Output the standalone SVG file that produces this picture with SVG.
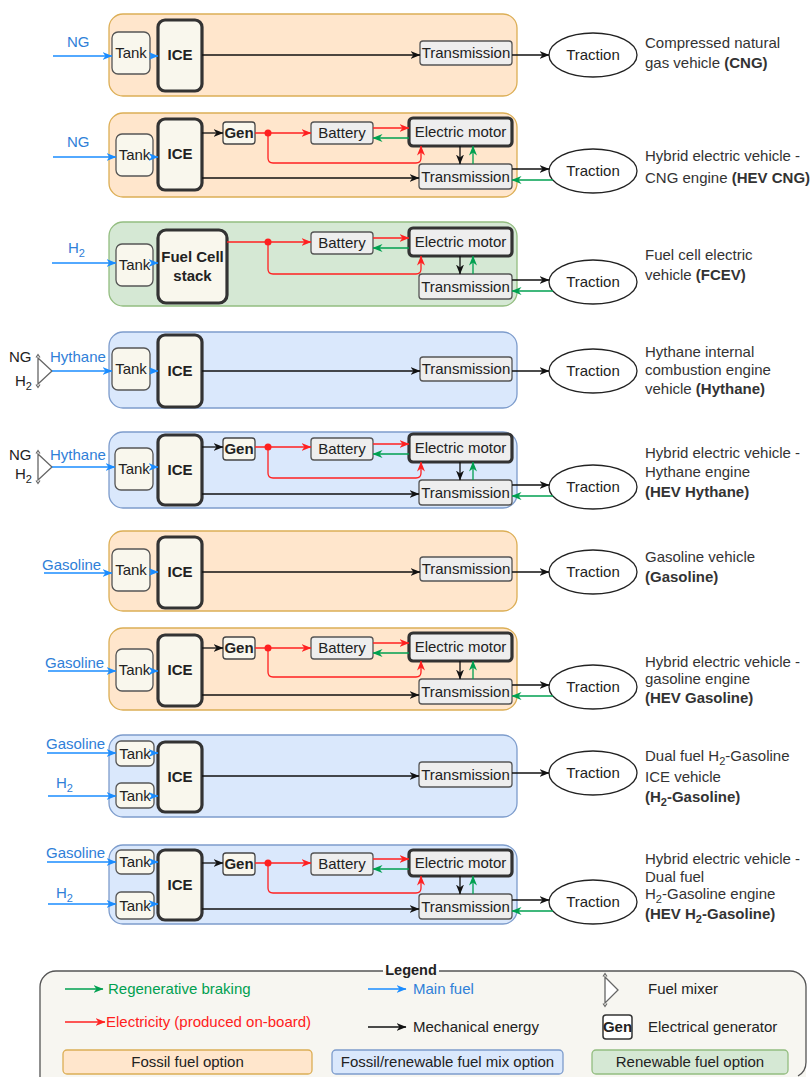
<svg xmlns="http://www.w3.org/2000/svg" width="811" height="1077" viewBox="0 0 811 1077">
  <style>
    .pf {fill:#ffe6cc;stroke:#dcae55;stroke-width:1.3}
    .pb {fill:#dae8fc;stroke:#7d9ccc;stroke-width:1.3}
    .pg {fill:#d5e8d4;stroke:#93bd80;stroke-width:1.3}
    .tank {fill:#f9f7ed;stroke:#555;stroke-width:1.3}
    .ice {fill:#f9f7ed;stroke:#333;stroke-width:3.2}
    .gen {fill:#f9f7ed;stroke:#444;stroke-width:1.3}
    .box {fill:#eeeeee;stroke:#555;stroke-width:1.3}
    .motor {fill:#eeeeee;stroke:#333;stroke-width:3.2}
    .trac {fill:#fff;stroke:#222;stroke-width:1.3}
    .mix {fill:#fff;stroke:#666;stroke-width:1.3}
    text {font-family:"Liberation Sans",Arial,sans-serif;font-size:15px;fill:#222}
    .c {text-anchor:middle}
    .bd {font-weight:bold}
    .fuel {fill:#2f80d8}
    .desc {fill:#333}
    .sub {font-size:11px}
    .k {fill:none;stroke:#111;stroke-width:1.3}
    .r {fill:none;stroke:#ff2020;stroke-width:1.3}
    .g {fill:none;stroke:#00a050;stroke-width:1.3}
    .b {fill:none;stroke:#1a8cff;stroke-width:1.5}
    .dot {fill:#ff2020}
  </style>
  <defs>
    <marker id="ah-k" viewBox="0 0 10 8" refX="9.5" refY="4" markerWidth="10" markerHeight="8" markerUnits="userSpaceOnUse" orient="auto"><path d="M0,0 L10,4 L0,8 L3,4 z" fill="#111"/></marker>
    <marker id="ah-r" viewBox="0 0 10 8" refX="9.5" refY="4" markerWidth="10" markerHeight="8" markerUnits="userSpaceOnUse" orient="auto"><path d="M0,0 L10,4 L0,8 L3,4 z" fill="#ff2020"/></marker>
    <marker id="ah-g" viewBox="0 0 10 8" refX="9.5" refY="4" markerWidth="10" markerHeight="8" markerUnits="userSpaceOnUse" orient="auto"><path d="M0,0 L10,4 L0,8 L3,4 z" fill="#00a050"/></marker>
    <marker id="ah-b" viewBox="0 0 10 8" refX="9.5" refY="4" markerWidth="10" markerHeight="8" markerUnits="userSpaceOnUse" orient="auto"><path d="M0,0 L10,4 L0,8 L3,4 z" fill="#1a8cff"/></marker>
  </defs>

  <rect width="811" height="1077" fill="#fff"/>

  <!-- ===== Panel backgrounds and nodes ===== -->

  <!-- CNG -->
  <g id="cng" transform="translate(0,14)">
    <rect class="pf" x="109" y="0" width="408" height="82" rx="14"/>
    <g id="cng-tank"><rect class="tank" x="112" y="18" width="38" height="42" rx="6"/><text class="c" x="131" y="44">Tank</text></g>
    <g id="cng-ice"><rect class="ice" x="158" y="6" width="44" height="71" rx="7"/><text class="c bd" x="180" y="46">ICE</text></g>
    <g id="cng-trans"><rect class="box" x="420" y="27" width="92" height="24" rx="3"/><text class="c" x="466" y="44">Transmission</text></g>
    <g id="cng-traction"><ellipse class="trac" cx="593" cy="41" rx="44" ry="22"/><text class="c" x="593" y="46">Traction</text></g>
    <text class="fuel" x="67" y="33">NG</text>
    <g id="cng-label"><text class="desc" x="645" y="34">Compressed natural</text><text class="desc" x="645" y="54">gas vehicle <tspan class="bd">(CNG)</tspan></text></g>
  </g>

  <!-- HEV CNG -->
  <g id="hev-cng" transform="translate(0,113)">
    <rect class="pf" x="109" y="0" width="408" height="84" rx="14"/>
    <g id="hev-cng-tank"><rect class="tank" x="116" y="21" width="37" height="42" rx="6"/><text class="c" x="134.5" y="47">Tank</text></g>
    <g id="hev-cng-ice"><rect class="ice" x="158" y="6" width="44" height="71" rx="7"/><text class="c bd" x="180" y="46">ICE</text></g>
    <g id="hev-cng-gen"><rect class="gen" x="223" y="9" width="32" height="22" rx="3"/><text class="c bd" x="239" y="25">Gen</text></g>
    <g id="hev-cng-battery"><rect class="box" x="311" y="9" width="62" height="22" rx="3"/><text class="c" x="342" y="25">Battery</text></g>
    <g id="hev-cng-motor"><rect class="motor" x="409" y="5" width="103" height="28" rx="4"/><text class="c" x="460.5" y="24">Electric motor</text></g>
    <g id="hev-cng-trans"><rect class="box" x="419" y="51" width="93" height="25" rx="3"/><text class="c" x="465.5" y="68.5">Transmission</text></g>
    <g id="hev-cng-traction"><ellipse class="trac" cx="593" cy="58" rx="44" ry="22"/><text class="c" x="593" y="63">Traction</text></g>
    <text class="fuel" x="67" y="34">NG</text>
    <g id="hev-cng-label"><text class="desc" x="645" y="48">Hybrid electric vehicle -</text><text class="desc" x="645" y="70">CNG engine <tspan class="bd">(HEV CNG)</tspan></text></g>
  </g>

  <!-- FCEV -->
  <g id="fcev" transform="translate(0,223)">
    <rect class="pg" x="109" y="-1" width="408" height="84" rx="14"/>
    <g id="fcev-tank"><rect class="tank" x="116" y="21" width="37" height="42" rx="6"/><text class="c" x="134.5" y="47">Tank</text></g>
    <g id="fcev-stack"><rect class="ice" x="158" y="7" width="69" height="73" rx="8"/><text class="c bd" x="192.5" y="39">Fuel Cell</text><text class="c bd" x="192.5" y="58">stack</text></g>
    <g id="fcev-battery"><rect class="box" x="311" y="9" width="62" height="22" rx="3"/><text class="c" x="342" y="25">Battery</text></g>
    <g id="fcev-motor"><rect class="motor" x="409" y="5" width="103" height="28" rx="4"/><text class="c" x="460.5" y="24">Electric motor</text></g>
    <g id="fcev-trans"><rect class="box" x="419" y="51" width="93" height="25" rx="3"/><text class="c" x="465.5" y="68.5">Transmission</text></g>
    <g id="fcev-traction"><ellipse class="trac" cx="593" cy="59" rx="44" ry="22"/><text class="c" x="593" y="64">Traction</text></g>
    <text class="fuel" x="68" y="30">H<tspan class="sub" dy="4">2</tspan></text>
    <g id="fcev-label"><text class="desc" x="645" y="37">Fuel cell electric</text><text class="desc" x="645" y="57">vehicle <tspan class="bd">(FCEV)</tspan></text></g>
  </g>

  <!-- Hythane ICE -->
  <g id="hythane" transform="translate(0,330)">
    <rect class="pb" x="109" y="2" width="408" height="76" rx="14"/>
    <g id="hythane-mixer"><polygon class="mix" points="38,28 52,41 38,54"/><path d="M36,27.5 L38,24.5 L40,27.5 M36,54.5 L38,57.5 L40,54.5" fill="none" stroke="#666" stroke-width="1.2"/></g>
    <g id="hythane-tank"><rect class="tank" x="112" y="18" width="38" height="42" rx="6"/><text class="c" x="131" y="44">Tank</text></g>
    <g id="hythane-ice"><rect class="ice" x="158" y="5" width="44" height="72" rx="7"/><text class="c bd" x="180" y="46">ICE</text></g>
    <g id="hythane-trans"><rect class="box" x="420" y="27" width="92" height="24" rx="3"/><text class="c" x="466" y="44">Transmission</text></g>
    <g id="hythane-traction"><ellipse class="trac" cx="593" cy="41" rx="44" ry="22"/><text class="c" x="593" y="46">Traction</text></g>
    <text x="9" y="32">NG</text>
    <text x="15" y="56">H<tspan class="sub" dy="4">2</tspan></text>
    <text class="fuel" x="50" y="32">Hythane</text>
    <g id="hythane-label"><text class="desc" x="645" y="27">Hythane internal</text><text class="desc" x="645" y="45">combustion engine</text><text class="desc" x="645" y="64">vehicle <tspan class="bd">(Hythane)</tspan></text></g>
  </g>

  <!-- HEV Hythane -->
  <g id="hev-hythane" transform="translate(0,429)">
    <rect class="pb" x="109" y="3" width="408" height="76" rx="14"/>
    <g id="hev-hythane-mixer"><polygon class="mix" points="38,25 52,38 38,51"/><path d="M36,24.5 L38,21.5 L40,24.5 M36,51.5 L38,54.5 L40,51.5" fill="none" stroke="#666" stroke-width="1.2"/></g>
    <g id="hev-hythane-tank"><rect class="tank" x="115" y="19" width="38" height="42" rx="6"/><text class="c" x="134" y="45">Tank</text></g>
    <g id="hev-hythane-ice"><rect class="ice" x="158" y="6" width="44" height="70" rx="7"/><text class="c bd" x="180" y="46">ICE</text></g>
    <g id="hev-hythane-gen"><rect class="gen" x="223" y="9" width="32" height="22" rx="3"/><text class="c bd" x="239" y="25">Gen</text></g>
    <g id="hev-hythane-battery"><rect class="box" x="311" y="9" width="62" height="22" rx="3"/><text class="c" x="342" y="25">Battery</text></g>
    <g id="hev-hythane-motor"><rect class="motor" x="409" y="5" width="103" height="28" rx="4"/><text class="c" x="460.5" y="24">Electric motor</text></g>
    <g id="hev-hythane-trans"><rect class="box" x="419" y="51" width="93" height="25" rx="3"/><text class="c" x="465.5" y="68.5">Transmission</text></g>
    <g id="hev-hythane-traction"><ellipse class="trac" cx="593" cy="58" rx="44" ry="22"/><text class="c" x="593" y="63">Traction</text></g>
    <text x="9" y="31">NG</text>
    <text x="15" y="50">H<tspan class="sub" dy="4">2</tspan></text>
    <text class="fuel" x="50" y="31">Hythane</text>
    <g id="hev-hythane-label"><text class="desc" x="645" y="29">Hybrid electric vehicle -</text><text class="desc" x="645" y="48">Hythane engine</text><text class="desc bd" x="645" y="68">(HEV Hythane)</text></g>
  </g>

  <!-- Gasoline ICE -->
  <g id="gasoline" transform="translate(0,531)">
    <rect class="pf" x="109" y="0" width="408" height="80" rx="14"/>
    <g id="gasoline-tank"><rect class="tank" x="112" y="18" width="38" height="42" rx="6"/><text class="c" x="131" y="44">Tank</text></g>
    <g id="gasoline-ice"><rect class="ice" x="158" y="6" width="44" height="71" rx="7"/><text class="c bd" x="180" y="46">ICE</text></g>
    <g id="gasoline-trans"><rect class="box" x="420" y="26" width="92" height="24" rx="3"/><text class="c" x="466" y="43">Transmission</text></g>
    <g id="gasoline-traction"><ellipse class="trac" cx="593" cy="41" rx="44" ry="22"/><text class="c" x="593" y="46">Traction</text></g>
    <text class="fuel" x="42" y="39">Gasoline</text>
    <g id="gasoline-label"><text class="desc" x="645" y="31">Gasoline vehicle</text><text class="desc bd" x="645" y="51">(Gasoline)</text></g>
  </g>

  <!-- HEV Gasoline -->
  <g id="hev-gasoline" transform="translate(0,628)">
    <rect class="pf" x="109" y="0" width="408" height="82" rx="14"/>
    <g id="hev-gasoline-tank"><rect class="tank" x="116" y="21" width="37" height="42" rx="6"/><text class="c" x="134.5" y="47">Tank</text></g>
    <g id="hev-gasoline-ice"><rect class="ice" x="158" y="7" width="44" height="71" rx="7"/><text class="c bd" x="180" y="47">ICE</text></g>
    <g id="hev-gasoline-gen"><rect class="gen" x="223" y="9" width="32" height="22" rx="3"/><text class="c bd" x="239" y="25">Gen</text></g>
    <g id="hev-gasoline-battery"><rect class="box" x="311" y="9" width="62" height="22" rx="3"/><text class="c" x="342" y="25">Battery</text></g>
    <g id="hev-gasoline-motor"><rect class="motor" x="409" y="5" width="103" height="28" rx="4"/><text class="c" x="460.5" y="24">Electric motor</text></g>
    <g id="hev-gasoline-trans"><rect class="box" x="419" y="51" width="93" height="25" rx="3"/><text class="c" x="465.5" y="68.5">Transmission</text></g>
    <g id="hev-gasoline-traction"><ellipse class="trac" cx="593" cy="59" rx="44" ry="22"/><text class="c" x="593" y="64">Traction</text></g>
    <text class="fuel" x="45" y="40">Gasoline</text>
    <g id="hev-gasoline-label"><text class="desc" x="645" y="39">Hybrid electric vehicle -</text><text class="desc" x="645" y="56">gasoline engine</text><text class="desc bd" x="645" y="75">(HEV Gasoline)</text></g>
  </g>

  <!-- Dual fuel H2-Gasoline ICE -->
  <g id="h2-gasoline" transform="translate(0,735)">
    <rect class="pb" x="109" y="0" width="408" height="82" rx="14"/>
    <g id="h2-gasoline-tank1"><rect class="tank" x="116" y="6" width="38" height="25" rx="5"/><text class="c" x="135" y="24">Tank</text></g>
    <g id="h2-gasoline-tank2"><rect class="tank" x="116" y="48" width="38" height="25" rx="5"/><text class="c" x="135" y="66">Tank</text></g>
    <g id="h2-gasoline-ice"><rect class="ice" x="158" y="7" width="44" height="70" rx="7"/><text class="c bd" x="180" y="47">ICE</text></g>
    <g id="h2-gasoline-trans"><rect class="box" x="419" y="27" width="93" height="25" rx="3"/><text class="c" x="465.5" y="44.5">Transmission</text></g>
    <g id="h2-gasoline-traction"><ellipse class="trac" cx="593" cy="38" rx="44" ry="22"/><text class="c" x="593" y="43">Traction</text></g>
    <text class="fuel" x="46" y="14">Gasoline</text>
    <text class="fuel" x="56" y="53">H<tspan class="sub" dy="4">2</tspan></text>
    <g id="h2-gasoline-label"><text class="desc" x="645" y="26">Dual fuel H<tspan class="sub" dy="4">2</tspan><tspan dy="-4">-Gasoline</tspan></text><text class="desc" x="645" y="47">ICE vehicle</text><text class="desc bd" x="645" y="67">(H<tspan class="sub" dy="4">2</tspan><tspan dy="-4">-Gasoline)</tspan></text></g>
  </g>

  <!-- HEV dual fuel H2-Gasoline -->
  <g id="hev-h2-gasoline" transform="translate(0,844)">
    <rect class="pb" x="109" y="1" width="408" height="79" rx="14"/>
    <g id="hev-h2-gasoline-tank1"><rect class="tank" x="116" y="6" width="38" height="24" rx="5"/><text class="c" x="135" y="23">Tank</text></g>
    <g id="hev-h2-gasoline-tank2"><rect class="tank" x="116" y="48" width="38" height="27" rx="5"/><text class="c" x="135" y="67">Tank</text></g>
    <g id="hev-h2-gasoline-ice"><rect class="ice" x="158" y="6" width="44" height="70" rx="7"/><text class="c bd" x="180" y="46">ICE</text></g>
    <g id="hev-h2-gasoline-gen"><rect class="gen" x="223" y="9" width="32" height="22" rx="3"/><text class="c bd" x="239" y="25">Gen</text></g>
    <g id="hev-h2-gasoline-battery"><rect class="box" x="311" y="9" width="62" height="22" rx="3"/><text class="c" x="342" y="25">Battery</text></g>
    <g id="hev-h2-gasoline-motor"><rect class="motor" x="409" y="6" width="103" height="26" rx="4"/><text class="c" x="460.5" y="24">Electric motor</text></g>
    <g id="hev-h2-gasoline-trans"><rect class="box" x="419" y="50" width="93" height="25" rx="3"/><text class="c" x="465.5" y="67.5">Transmission</text></g>
    <g id="hev-h2-gasoline-traction"><ellipse class="trac" cx="593" cy="58" rx="44" ry="22"/><text class="c" x="593" y="63">Traction</text></g>
    <text class="fuel" x="46" y="14">Gasoline</text>
    <text class="fuel" x="56" y="54">H<tspan class="sub" dy="4">2</tspan></text>
    <g id="hev-h2-gasoline-label"><text class="desc" x="645" y="20">Hybrid electric vehicle -</text><text class="desc" x="645" y="38">Dual fuel</text><text class="desc" x="645" y="55">H<tspan class="sub" dy="4">2</tspan><tspan dy="-4">-Gasoline engine</tspan></text><text class="desc bd" x="645" y="75">(HEV H<tspan class="sub" dy="4">2</tspan><tspan dy="-4">-Gasoline)</tspan></text></g>
  </g>

  <!-- ===== Connectors ===== -->
  <g id="connectors">
    <g transform="translate(0,14)">
      <path class="b" d="M53,42 H112" marker-end="url(#ah-b)"/>
      <path class="b" d="M150,42 H158" marker-end="url(#ah-b)"/>
      <path class="k" d="M202,41 H420" marker-end="url(#ah-k)"/>
      <path class="k" d="M512,41 H549" marker-end="url(#ah-k)"/>
    </g>
    <g transform="translate(0,113)">
      <path class="b" d="M53,44 H116" marker-end="url(#ah-b)"/>
      <path class="b" d="M153,44 H158" marker-end="url(#ah-b)"/>
      <path class="k" d="M202,20 H223" marker-end="url(#ah-k)"/>
      <path class="r" d="M255,20 H311" marker-end="url(#ah-r)"/>
      <path class="r" d="M268,20 V45 Q268,50 273,50 H416 Q421,50 421,45 V33" marker-end="url(#ah-r)"/>
      <circle class="dot" cx="268" cy="20" r="3.5"/>
      <path class="r" d="M373,15 H409" marker-end="url(#ah-r)"/>
      <path class="g" d="M409,25 H373" marker-end="url(#ah-g)"/>
      <path class="k" d="M460,33 V51" marker-end="url(#ah-k)"/>
      <path class="g" d="M473,51 V33" marker-end="url(#ah-g)"/>
      <path class="k" d="M202,65 H419" marker-end="url(#ah-k)"/>
      <path class="k" d="M512,56 H549" marker-end="url(#ah-k)"/>
      <path class="g" d="M553,67 H512" marker-end="url(#ah-g)"/>
    </g>
    <g transform="translate(0,223)">
      <path class="b" d="M52,40 H116" marker-end="url(#ah-b)"/>
      <path class="b" d="M153,40 H158" marker-end="url(#ah-b)"/>
      <path class="r" d="M227,19 H311" marker-end="url(#ah-r)"/>
      <path class="r" d="M268,19 V46 Q268,51 273,51 H416 Q421,51 421,46 V33" marker-end="url(#ah-r)"/>
      <circle class="dot" cx="268" cy="19" r="3.5"/>
      <path class="r" d="M373,15 H409" marker-end="url(#ah-r)"/>
      <path class="g" d="M409,25 H373" marker-end="url(#ah-g)"/>
      <path class="k" d="M460,33 V51" marker-end="url(#ah-k)"/>
      <path class="g" d="M473,51 V33" marker-end="url(#ah-g)"/>
      <path class="k" d="M512,57 H549" marker-end="url(#ah-k)"/>
      <path class="g" d="M553,68 H512" marker-end="url(#ah-g)"/>
    </g>
    <g transform="translate(0,330)">
      <path class="b" d="M52,41 H112" marker-end="url(#ah-b)"/>
      <path class="b" d="M150,41 H158" marker-end="url(#ah-b)"/>
      <path class="k" d="M202,41 H420" marker-end="url(#ah-k)"/>
      <path class="k" d="M512,41 H549" marker-end="url(#ah-k)"/>
    </g>
    <g transform="translate(0,429)">
      <path class="b" d="M52,38 H115" marker-end="url(#ah-b)"/>
      <path class="b" d="M153,38 H158" marker-end="url(#ah-b)"/>
      <path class="k" d="M202,18 H223" marker-end="url(#ah-k)"/>
      <path class="r" d="M255,18 H311" marker-end="url(#ah-r)"/>
      <path class="r" d="M268,18 V44 Q268,49 273,49 H416 Q421,49 421,44 V33" marker-end="url(#ah-r)"/>
      <circle class="dot" cx="268" cy="18" r="3.5"/>
      <path class="r" d="M373,15 H409" marker-end="url(#ah-r)"/>
      <path class="g" d="M409,25 H373" marker-end="url(#ah-g)"/>
      <path class="k" d="M460,33 V51" marker-end="url(#ah-k)"/>
      <path class="g" d="M473,51 V33" marker-end="url(#ah-g)"/>
      <path class="k" d="M202,65 H419" marker-end="url(#ah-k)"/>
      <path class="k" d="M512,56 H549" marker-end="url(#ah-k)"/>
      <path class="g" d="M553,67 H512" marker-end="url(#ah-g)"/>
    </g>
    <g transform="translate(0,531)">
      <path class="b" d="M44,42 H112" marker-end="url(#ah-b)"/>
      <path class="b" d="M150,41 H158" marker-end="url(#ah-b)"/>
      <path class="k" d="M202,41 H420" marker-end="url(#ah-k)"/>
      <path class="k" d="M512,41 H549" marker-end="url(#ah-k)"/>
    </g>
    <g transform="translate(0,628)">
      <path class="b" d="M48,43 H116" marker-end="url(#ah-b)"/>
      <path class="b" d="M153,43 H158" marker-end="url(#ah-b)"/>
      <path class="k" d="M202,20 H223" marker-end="url(#ah-k)"/>
      <path class="r" d="M255,20 H311" marker-end="url(#ah-r)"/>
      <path class="r" d="M268,20 V44 Q268,49 273,49 H416 Q421,49 421,44 V33" marker-end="url(#ah-r)"/>
      <circle class="dot" cx="268" cy="20" r="3.5"/>
      <path class="r" d="M373,15 H409" marker-end="url(#ah-r)"/>
      <path class="g" d="M409,25 H373" marker-end="url(#ah-g)"/>
      <path class="k" d="M460,33 V51" marker-end="url(#ah-k)"/>
      <path class="g" d="M473,51 V33" marker-end="url(#ah-g)"/>
      <path class="k" d="M202,67 H419" marker-end="url(#ah-k)"/>
      <path class="k" d="M512,57 H549" marker-end="url(#ah-k)"/>
      <path class="g" d="M553,68 H512" marker-end="url(#ah-g)"/>
    </g>
    <g transform="translate(0,735)">
      <path class="b" d="M47,18 H116" marker-end="url(#ah-b)"/>
      <path class="b" d="M48,61 H116" marker-end="url(#ah-b)"/>
      <path class="b" d="M154,18 H158" marker-end="url(#ah-b)"/>
      <path class="b" d="M154,61 H158" marker-end="url(#ah-b)"/>
      <path class="k" d="M202,41 H419" marker-end="url(#ah-k)"/>
      <path class="k" d="M512,38 H549" marker-end="url(#ah-k)"/>
    </g>
    <g transform="translate(0,844)">
      <path class="b" d="M47,18 H116" marker-end="url(#ah-b)"/>
      <path class="b" d="M48,60 H116" marker-end="url(#ah-b)"/>
      <path class="b" d="M154,18 H158" marker-end="url(#ah-b)"/>
      <path class="b" d="M154,60 H158" marker-end="url(#ah-b)"/>
      <path class="k" d="M202,19 H223" marker-end="url(#ah-k)"/>
      <path class="r" d="M255,19 H311" marker-end="url(#ah-r)"/>
      <path class="r" d="M268,19 V44 Q268,49 273,49 H416 Q421,49 421,44 V32" marker-end="url(#ah-r)"/>
      <circle class="dot" cx="268" cy="19" r="3.5"/>
      <path class="r" d="M373,15 H409" marker-end="url(#ah-r)"/>
      <path class="g" d="M409,25 H373" marker-end="url(#ah-g)"/>
      <path class="k" d="M460,32 V50" marker-end="url(#ah-k)"/>
      <path class="g" d="M473,50 V32" marker-end="url(#ah-g)"/>
      <path class="k" d="M202,65 H419" marker-end="url(#ah-k)"/>
      <path class="k" d="M512,56 H549" marker-end="url(#ah-k)"/>
      <path class="g" d="M553,67 H512" marker-end="url(#ah-g)"/>
    </g>
  </g>

  <!-- ===== Legend ===== -->
  <g id="legend">
    <rect x="40" y="971" width="766" height="120" rx="16" fill="#f7f6f1" stroke="none"/>
    <path d="M383,971 H56 A16,16 0 0 0 40,987 V1077 M439,971 H790 A16,16 0 0 1 806,987 V1062 A16,16 0 0 1 798,1076" fill="none" stroke="#555" stroke-width="1.3"/>
    <text class="c bd" x="411" y="975" style="font-size:14.5px">Legend</text>

    <path class="g" d="M65,989 H103" marker-end="url(#ah-g)"/>
    <text x="108" y="994" style="fill:#00a050">Regenerative braking</text>
    <path class="r" d="M65,1022 H105" marker-end="url(#ah-r)"/>
    <text x="106" y="1027" style="fill:#ff2020">Electricity (produced on-board)</text>

    <path class="b" d="M368,989 H406" marker-end="url(#ah-b)"/>
    <text class="fuel" x="413" y="994">Main fuel</text>
    <path class="k" d="M368,1027 H406" marker-end="url(#ah-k)"/>
    <text x="413" y="1032">Mechanical energy</text>

    <polygon class="mix" points="605,977 618,990 605,1003"/>
    <path d="M603,976.5 L605,973.5 L607,976.5 M603,1003.5 L605,1006.5 L607,1003.5" fill="none" stroke="#666" stroke-width="1.2"/>
    <text x="648" y="994">Fuel mixer</text>
    <rect x="603" y="1015" width="29" height="24" rx="3" fill="#fff" stroke="#333" stroke-width="1.5"/>
    <text class="c bd" x="617.5" y="1032">Gen</text>
    <text x="648" y="1032">Electrical generator</text>

    <rect class="pf" x="63" y="1050" width="249" height="24" rx="4"/>
    <text class="c" x="187.5" y="1067">Fossil fuel option</text>
    <rect class="pb" x="332" y="1050" width="231" height="24" rx="4"/>
    <text class="c" x="447.5" y="1067">Fossil/renewable fuel mix option</text>
    <rect class="pg" x="592" y="1050" width="196" height="24" rx="4"/>
    <text class="c" x="690" y="1067">Renewable fuel option</text>
  </g>
</svg>
